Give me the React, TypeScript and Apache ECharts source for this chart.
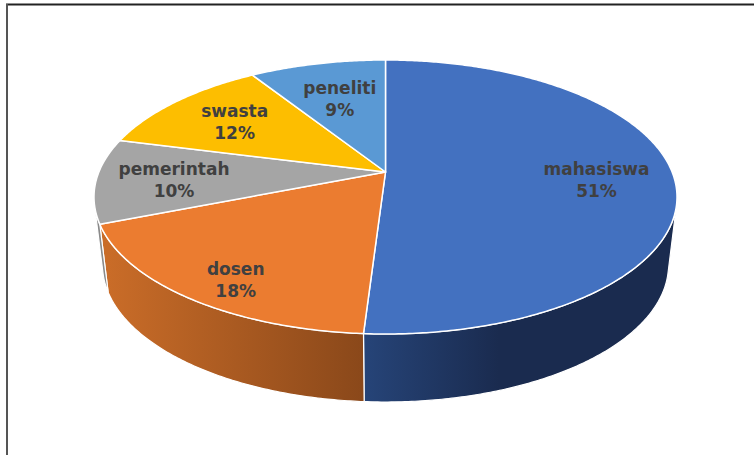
import React, { useEffect, useRef } from "react";
import * as echarts from "echarts";

const categories = ["mahasiswa", "dosen", "pemerintah", "swasta", "peneliti"];
const shares = [51, 18, 10, 12, 9];
const faceColors = ["#4371C0", "#EB7C30", "#A5A5A5", "#FDBE00", "#5A99D4"];
const wallColorsNear = ["#264478", "#C96C28", "#8A8A8A", "#9C7500", "#3A6A98"];
const wallColorsFar = ["#1A2B4F", "#8A481A", "#8A8A8A", "#9C7500", "#3A6A98"];

// perspective disc: a circle seen from above, its centre projected to the apex
const TOP = { cx: 385.5, cy: 197, rx: 291.5, ry: 137 };
const BOTTOM = { cx: 385.5, cy: 265, rx: 283, ry: 137 };
const TILT = -0.1825;
const LABEL_RADIUS = [0.73, 0.8, 0.74, 0.64, 0.62];
const LABEL_SHIFT = [[1, 5], [3, 11], [2, 2], [-12, -3.5], [-1, -1.5]];

const total = shares.reduce((a, b) => a + b, 0);
const startAt = (i: number) => shares.slice(0, i).reduce((a, b) => a + b, 0) / total * Math.PI * 2;

function project(theta: number, r: number, e: typeof TOP): [number, number] {
  const u = r * Math.sin(theta);
  const v = -r * Math.cos(theta);
  const d = 1 + TILT * v;
  return [e.cx + e.rx * (u * Math.sqrt(1 - TILT * TILT)) / d, e.cy + e.ry * (v + TILT) / d];
}

function samples(a: number, b: number): number[] {
  const n = Math.max(2, Math.ceil((b - a) / 0.01));
  const out: number[] = [];
  for (let k = 0; k <= n; k++) out.push(a + (b - a) * k / n);
  return out;
}

// a wall point is visible when the ruling from top rim to bottom rim points out of the top ellipse
function wallVisible(t: number): boolean {
  const h = 0.001;
  const p0 = project(t - h, 1, TOP);
  const p1 = project(t + h, 1, TOP);
  const p = project(t, 1, TOP);
  const q = project(t, 1, BOTTOM);
  const cross = (p1[0] - p0[0]) * (q[1] - p[1]) - (p1[1] - p0[1]) * (q[0] - p[0]);
  return cross < 0;
}

function App() {
  const ref = useRef<HTMLDivElement>(null);
  useEffect(() => {
    const chart = echarts.init(ref.current!, undefined, { renderer: "svg" });
    const seriesData = categories.map((name, i) => ({ name, value: shares[i] }));
    chart.setOption({
      animation: false,
      graphic: [
        { type: "line", silent: true, shape: { x1: 6, y1: 4.5, x2: 754, y2: 4.5 }, style: { stroke: "#222", lineWidth: 2 } },
        { type: "line", silent: true, shape: { x1: 7, y1: 4, x2: 7, y2: 455 }, style: { stroke: "#555", lineWidth: 2 } },
      ],
      series: [
        {
          type: "custom",
          coordinateSystem: "none",
          silent: true,
          z: 1,
          data: seriesData,
          renderItem: (params: any) => {
            const i = params.dataIndex;
            const ts = samples(startAt(i), startAt(i + 1)).filter(wallVisible);
            if (ts.length < 2) return { type: "group", children: [] };
            const top = ts.map((t) => project(t, 1, TOP));
            const bottom = ts.map((t) => project(t, 1, BOTTOM)).reverse();
            const xs = bottom.map((p) => p[0]);
            const x0 = Math.min(...xs);
            const x1 = i === 0 ? x0 + 135 : Math.max(...xs);
            return {
              type: "polygon",
              shape: { points: [...top, ...bottom] },
              style: {
                stroke: "#fff",
                lineWidth: 1.2,
                fill: new echarts.graphic.LinearGradient(
                  x0, 0, x1, 0,
                  [
                    { offset: 0, color: wallColorsNear[i] },
                    { offset: 1, color: wallColorsFar[i] },
                  ],
                  true,
                ),
              },
            };
          },
        },
        {
          type: "custom",
          coordinateSystem: "none",
          silent: true,
          z: 2,
          data: seriesData,
          renderItem: (params: any) => {
            const i = params.dataIndex;
            const apex = project(0, 0, TOP);
            const rim = samples(startAt(i), startAt(i + 1)).map((t) => project(t, 1, TOP));
            return {
              type: "polygon",
              shape: { points: [apex, ...rim] },
              style: { fill: faceColors[i], stroke: "#fff", lineWidth: 1.5, lineJoin: "round" },
            };
          },
        },
        {
          type: "custom",
          coordinateSystem: "none",
          silent: true,
          z: 3,
          data: seriesData,
          renderItem: (params: any) => {
            const i = params.dataIndex;
            const mid = (startAt(i) + startAt(i + 1)) / 2;
            const p = project(mid, LABEL_RADIUS[i], TOP);
            return {
              type: "text",
              x: p[0] + LABEL_SHIFT[i][0],
              y: p[1] + LABEL_SHIFT[i][1],
              style: {
                text: `${categories[i]}\n${shares[i]}%`,
                fill: "#404040",
                font: "bold 17px 'DejaVu Sans'",
                lineHeight: 22,
                align: "center",
                verticalAlign: "middle",
              },
            };
          },
        },
      ],
    });
    return () => chart.dispose();
  }, []);
  return <div ref={ref} style={{ position: "fixed", left: 0, top: 0, width: 754, height: 455, background: "#fff" }} />;
}

export default App;
